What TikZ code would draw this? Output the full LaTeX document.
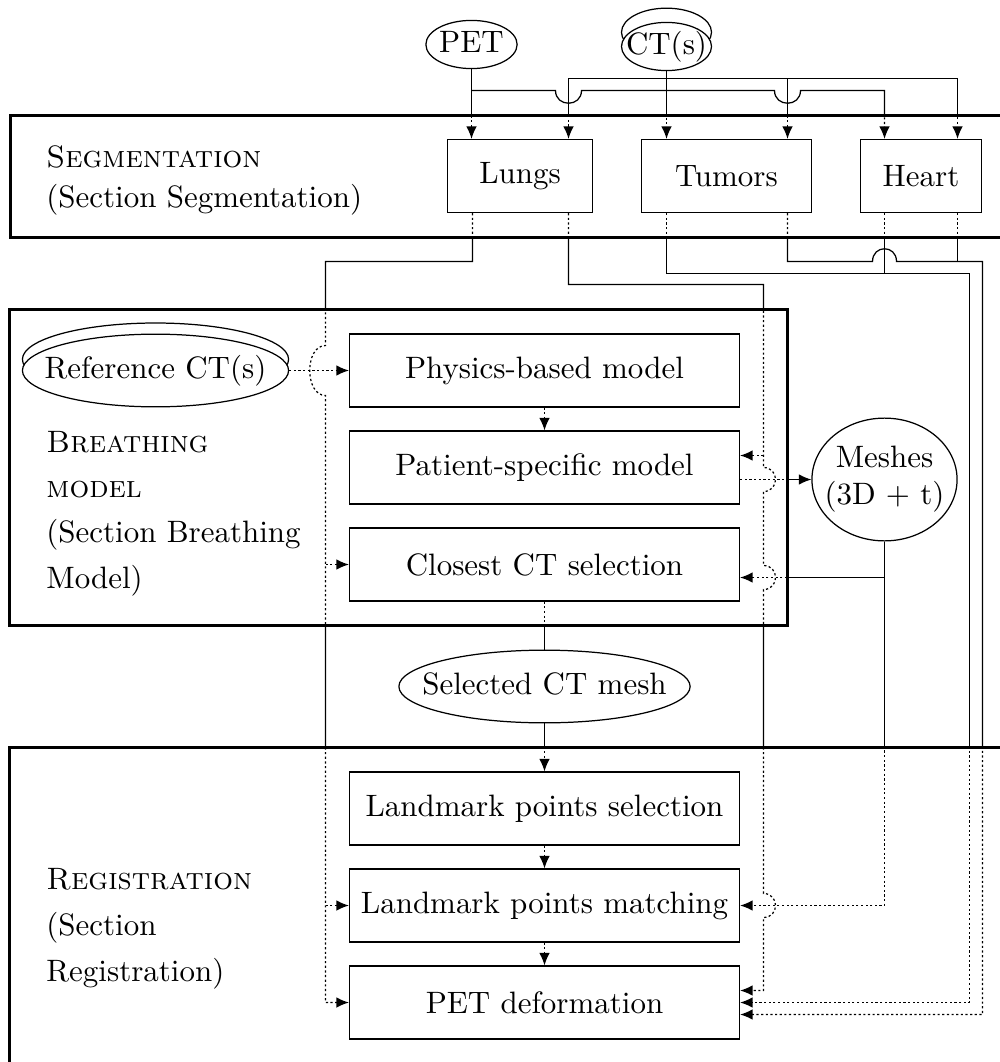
\documentclass[tikz,border=0pt]{standalone}
\usetikzlibrary{shapes.geometric, arrows.meta}

% all connectors, drawn once solid and once dotted
\newcommand{\flowwires}[1]{%
  % scans into the segmentation
  \draw[#1,->] (pet) -- (pet |- lungs.north);
  \draw[#1,->] (pet |- 0,90) -- (555,90) .. controls (555,107) and (581,107) .. (581,90)
    -- (774,90) .. controls (774,107) and (800,107) .. (800,90) -- (884,90) -- (heart.north -| 884,0);
  \draw[#1,->] (ct) -- (ct |- tumors.north);
  \draw[#1,->] (ct |- 0,78) -| (lungs.north -| 568,0);
  \draw[#1,->] (ct |- 0,78) -- (957,78) -- (heart.north -| 957,0);
  \draw[#1,->] (787,78) -- (tumors.north -| 787,0);
  % lungs
  \draw[#1,->] (lungs.south -| 472,0) -- (472,261) -- (325,261) -- (325,345)
    .. controls (304,345) and (304,395) .. (325,395) -- (325,1002) -- (petdef.west);
  \draw[#1,->] (325,564) -- (closest.west);
  \draw[#1,->] (325,905) -- (lmmatch.west);
  \draw[#1,->] (lungs.south -| 568,0) -- (568,284) -- (763,284) -- (763,467)
    .. controls (779,467) and (779,491) .. (763,491) -- (763,565)
    .. controls (779,565) and (779,589) .. (763,589) -- (763,893)
    .. controls (779,893) and (779,917) .. (763,917) -- (763,990) -- (petdef.east |- 0,990);
  \draw[#1,->] (763,455) -- (patient.east |- 0,455);
  % tumors and heart
  \draw[#1,->] (tumors.south -| 666,0) -- (666,273) -- (969,273) -- (969,1002) -- (petdef.east);
  \draw[#1] (heart.south -| 884,0) -- (884,273);
  \draw[#1,->] (tumors.south -| 787,0) -- (787,261) -- (872,261) .. controls (872,244) and (896,244) .. (896,261)
    -- (982,261) -- (982,1014) -- (petdef.east |- 0,1014);
  \draw[#1] (heart.south -| 957,0) -- (957,261);
  % breathing model
  \draw[#1,->] (refct) -- (physics);
  \draw[#1,->] (physics) -- (patient);
  \draw[#1,->] (patient.east |- 0,479) -- (meshes);
  \draw[#1,->] (meshes) -- (884,905) -- (lmmatch.east |- 0,905);
  \draw[#1,->] (884,577) -- (closest.east |- 0,577);
  % registration
  \draw[#1] (closest) -- (selct);
  \draw[#1,->] (selct) -- (lmsel);
  \draw[#1,->] (lmsel) -- (lmmatch);
  \draw[#1,->] (lmmatch) -- (petdef);
}

\begin{document}
\begin{tikzpicture}[x=0.323pt, y=-0.323pt,
    >={Latex[length=4pt,width=3.4pt]},
    stagebox/.style={draw, minimum width=126pt, minimum height=23.6pt},
    organ/.style={draw, minimum height=23.6pt},
    data/.style={draw, ellipse, fill=white, inner ysep=3.3pt},
    oneline/.style={text height=7.5pt, text depth=2.5pt},
    stack/.style={preaction={draw, fill=white, transform canvas={yshift=#1}}},
    frame/.style={draw, thick},
    framelabel/.style={anchor=west, align=left},
    wiredot/.style={dash pattern=on 0.7pt off 0.8pt}]

  \useasboundingbox (-0.5,-0.5) rectangle (998.5,1061.5);

  % scans
  \node[data, oneline, inner xsep=0pt, inner ysep=0.5pt] (pet) at (471,44) {PET};
  \node[data, oneline, stack=4.6pt, inner ysep=0.5pt, inner xsep=-2.8pt] (ct) at (666,46) {CT(s)};

  % segmentation
  \node[organ, minimum width=46.8pt] (lungs) at (519.5,175.5) {Lungs};
  \node[organ, minimum width=55pt] (tumors) at (726,175.5) {Tumors};
  \node[organ, minimum width=39pt] (heart) at (920.5,175.5) {Heart};

  % breathing model
  \node[data, oneline, stack=3.6pt, inner xsep=-5.4pt] (refct) at (155,370) {Reference CT(s)};
  \node[stagebox] (physics) at (544,370) {Physics-based model};
  \node[stagebox] (patient) at (544,467) {Patient-specific model};
  \node[stagebox] (closest) at (544,564) {Closest CT selection};
  \node[data, align=center, inner xsep=-2.8pt] (meshes) at (884,479) {Meshes\\(3D + t)};
  \node[data, oneline, inner xsep=-6.2pt] (selct) at (544,686) {Selected CT mesh};

  % registration
  \node[stagebox] (lmsel) at (544,808) {Landmark points selection};
  \node[stagebox] (lmmatch) at (544,905) {Landmark points matching};
  \node[stagebox] (petdef) at (544,1002) {PET deformation};

  % connectors: solid outside the frames, dotted inside
  \begin{scope}[even odd rule]
    \clip (-10,-10) rectangle (1030,1080)
      (10,115) rectangle (1010,237) (9,309) rectangle (787,625) (9,747) rectangle (1010,1063);
    \flowwires{}
  \end{scope}
  \begin{scope}
    \clip (10,115) rectangle (1010,237) (9,309) rectangle (787,625) (9,747) rectangle (1010,1063);
    \flowwires{wiredot}
  \end{scope}

  % frames
  \draw[frame] (10,115) rectangle (1010,237);
  \draw[frame] (9,309) rectangle (787,625);
  \draw[frame] (9,747) rectangle (1010,1063);

  \node[framelabel, font=\linespread{1.1}\selectfont] (seglab) at (35,180)
    {\textsc{Segmentation}\\(Section Segmentation)};
  \node[framelabel, font=\linespread{1.22}\selectfont] (breathlab) at (35,513)
    {\textsc{Breathing}\\\textsc{model}\\(Section Breathing\\Model)};
  \node[framelabel, font=\linespread{1.24}\selectfont] (reglab) at (35,928)
    {\textsc{Registration}\\(Section\\Registration)};
\end{tikzpicture}
\end{document}
